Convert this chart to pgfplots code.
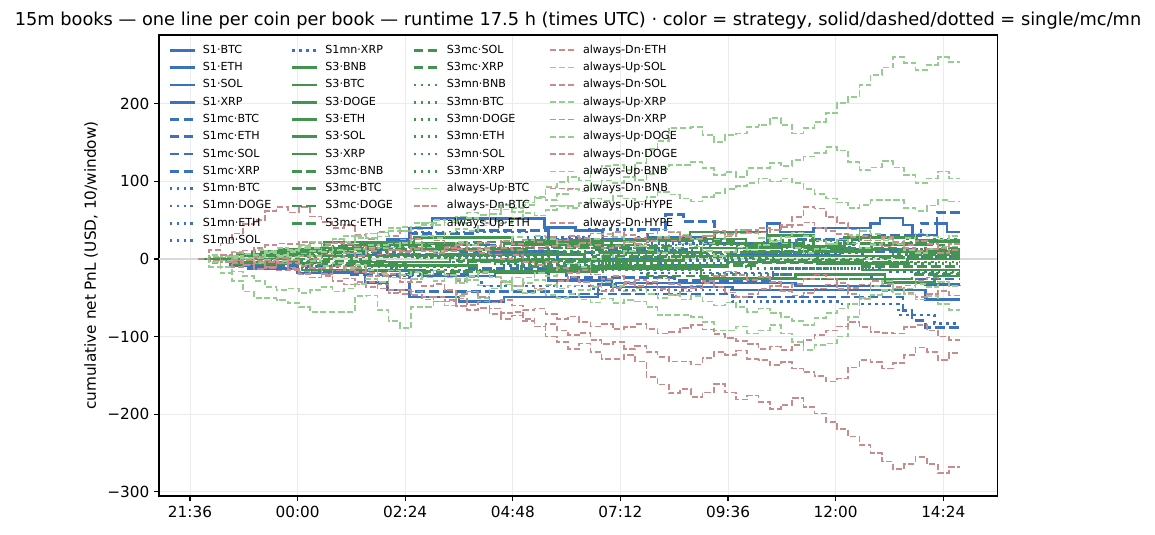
\documentclass[border=0pt]{standalone}
\usepackage{fontspec}
\setmainfont{DejaVu Sans}
\usepackage{pgfplots}
\usepackage{pgfplotstable}
\pgfplotsset{compat=1.18}
\definecolor{sone}{RGB}{58,114,190}
\definecolor{sthree}{RGB}{66,148,80}
\definecolor{aup}{RGB}{150,205,145}
\definecolor{adn}{RGB}{200,140,140}
\tikzset{
 Sa/.style={draw=sone, line width=1.9pt},
 Samc/.style={Sa, dash pattern=on 7pt off 3pt},
 Samn/.style={Sa, dash pattern=on 1.9pt off 3.1pt},
 Sb/.style={draw=sthree, line width=1.9pt},
 Sbmc/.style={Sb, dash pattern=on 7pt off 3pt},
 Sbmn/.style={Sb, dash pattern=on 1.9pt off 3.1pt},
 Aup/.style={draw=aup, line width=1.2pt, dash pattern=on 4.4pt off 1.9pt},
 Adn/.style={draw=adn, line width=1.2pt, dash pattern=on 4.4pt off 1.9pt},
}
\pgfplotstableread{
x U1 D1 U2 D2 U3 D3 U4 D4 U5 D5 U6 D6 U7 D7
0.18 0 0 0 0 0 0 0 0 0 0 0 0 0 0
0.43 3 -3 -3 3 2 -2 -10 12 3 -3 5 -5 -4 2
0.68 -4 4 4 -4 -2 2 -18 20 -2 2 2 -2 -10 5
0.93 2 -2 1 -1 4 -5 -28 33 4 -4 9 -10 -16 8
1.18 6 -7 7 -8 1 -2 -42 45 0 -1 6 -7 -22 11
1.43 1 -2 3 -4 5 -6 -50 50 -5 3 12 -13 -28 14
1.68 9 -10 10 -12 2 -4 -50 62 -1 -2 8 -10 -36 18
1.93 5 -6 14 -15 -3 1 -53 67 4 -6 3 -5 -40 20
2.18 12 -14 11 -13 3 -5 -57 60 -2 -1 9 -11 -38 19
2.43 18 -20 17 -19 7 -9 -62 67 -7 4 14 -16 -44 22
2.68 14 -16 22 -24 4 -6 -68 55 -3 0 10 -12 -40 20
2.93 20 -22 19 -21 9 -12 -68 48 -9 6 16 -19 -36 18
3.18 26 -29 25 -28 6 -9 -68 40 -5 2 12 -15 -42 21
3.43 22 -25 30 -33 11 -14 -68 44 -12 8 7 -10 -38 19
3.68 30 -33 27 -30 8 -12 -48 31 -8 4 13 -17 -32 16
3.93 27 -30 33 -36 14 -18 -47 26 -14 10 18 -22 -26 13
4.18 34 -38 29 -33 18 -22 -66 35 -19 6 14 -18 -30 15
4.43 40 -44 36 -40 15 -19 -80 30 -15 12 20 -24 -24 12
4.68 36 -40 41 -45 21 -25 -89 36 -21 9 25 -30 -20 10
4.93 42 -46 38 -42 25 -30 -62 26 -17 15 21 -26 -26 13
5.18 47 -52 44 -49 30 -35 -62 20 -24 11 15 -20 -20 10
5.43 44 -49 50 -55 27 -32 -55 24 -28 8 10 -15 -15 7
5.68 50 -55 47 -53 34 -40 -60 16 -24 14 16 -21 -21 10
5.93 46 -51 55 -61 39 -45 -48 20 -31 18 22 -28 -26 13
6.18 53 -59 60 -66 36 -42 -42 10 -27 15 18 -24 -22 11
6.43 49 -55 57 -63 43 -49 -50 14 -34 21 12 -18 -17 8
6.68 58 -64 64 -71 49 -56 -38 6 -38 17 17 -24 -23 11
6.93 64 -70 70 -77 46 -53 -30 0 -33 23 23 -30 -28 14
7.18 61 -68 66 -73 53 -60 -35 5 -40 19 28 -35 -24 12
7.43 70 -77 73 -80 59 -66 -24 -4 -44 25 24 -31 -31 16
7.68 80 -87 79 -87 56 -64 -18 -8 -40 22 30 -38 -27 13
7.93 93 -100 76 -84 63 -71 -22 -4 -46 28 26 -34 -33 17
8.18 99 -107 84 -92 69 -77 -12 -12 -50 24 20 -28 -38 20
8.43 106 -116 90 -98 66 -74 -6 -18 -45 30 15 -23 -34 17
8.68 101 -109 87 -95 72 -81 -10 -14 -52 27 21 -30 -40 21
8.93 112 -120 95 -104 78 -87 0 -20 -56 33 26 -35 -36 18
9.18 120 -129 101 -110 75 -84 6 -26 -51 29 32 -41 -30 14
9.43 121 -129 98 -107 81 -90 2 -22 -57 35 28 -37 -35 17
9.68 115 -124 106 -116 78 -88 10 -30 -53 31 22 -32 -42 22
9.93 124 -132 102 -112 74 -84 16 -35 -55 27 17 -27 -38 19
10.18 142 -152 110 -120 80 -90 12 -30 -62 33 23 -33 -45 23
10.43 152 -162 116 -126 86 -96 8 -25 -72 38 29 -39 -50 27
10.68 169 -173 121 -132 83 -94 14 -32 -72 34 35 -46 -46 24
10.93 169 -168 121 -132 78 -89 20 -38 -72 30 31 -42 -52 28
11.18 170 -178 125 -136 74 -85 16 -34 -75 25 26 -37 -48 25
11.43 160 -172 117 -128 80 -91 10 -28 -81 30 20 -31 -55 30
11.68 151 -161 108 -120 85 -97 4 -22 -92 36 25 -36 -60 33
11.93 160 -172 112 -124 90 -102 9 -16 -92 32 31 -43 -56 29
12.18 162 -181 106 -118 94 -106 15 -21 -87 38 37 -49 -62 33
12.43 170 -176 117 -129 98 -110 11 -27 -96 34 33 -45 -68 37
12.68 173 -184 117 -130 104 -116 18 -23 -92 40 27 -39 -64 34
12.93 182 -193 124 -137 100 -113 24 -30 -85 37 22 -35 -70 38
13.18 173 -188 120 -133 104 -117 20 -36 -96 44 28 -41 -75 41
13.43 162 -179 128 -141 98 -111 14 -32 -107 54 34 -47 -80 44
13.68 169 -191 132 -146 90 -104 8 -26 -117 67 30 -44 -85 47
13.93 177 -199 137 -151 84 -98 13 -20 -111 65 24 -38 -76 40
14.18 188 -210 144 -158 78 -92 19 -25 -109 54 19 -33 -70 36
14.43 201 -219 140 -154 73 -87 25 -31 -100 46 25 -39 -64 32
14.68 209 -229 125 -140 66 -81 20 -37 -75 38 31 -45 -58 28
14.93 224 -240 115 -130 70 -88 14 -33 -50 30 36 -51 -52 24
15.18 237 -250 118 -133 76 -94 18 -28 -35 24 32 -47 -46 20
15.43 247 -261 126 -141 76 -95 24 -32 -28 28 26 -41 -40 16
15.68 260 -271 118 -134 76 -96 19 -38 -38 22 21 -36 -45 20
15.93 253 -264 108 -124 66 -88 12 -34 -45 18 27 -43 -38 14
16.18 244 -255 98 -114 62 -85 8 -28 -52 23 33 -49 -32 10
16.43 250 -264 104 -120 69 -92 13 -24 -48 19 29 -45 -36 13
16.68 260 -276 113 -130 76 -100 16 -29 -58 14 25 -41 -30 8
16.93 254 -268 104 -121 74 -104 16 -34 -66 19 30 -47 -35 12
17.18 254 -268 104 -121 74 -104 16 -34 -66 19 30 -47 -35 12
}\always
\begin{document}
\begin{tikzpicture}
\useasboundingbox (-114.5pt,-27.4pt) rectangle (717.1pt,357.1pt);
\begin{axis}[
 at={(0,0)}, anchor=south west,
 scale only axis, width=603.4pt, height=331.9pt,
 xmin=-0.69, xmax=18.0, ymin=-305.5, ymax=288.8,
 xtick={0,2.4,4.8,7.2,9.6,12,14.4,16.8},
 xticklabels={21:36,00:00,02:24,04:48,07:12,09:36,12:00,14:24},
 ytick={-300,-200,-100,0,100,200},
 yticklabels={−300,−200,−100,0,100,200},
 tick align=outside, tick pos=left, major tick length=3.5pt,
 tick style={black, line width=0.8pt},
 axis line style={line width=0.8pt},
 grid=major, grid style={line width=0.55pt, color=black!8},
 tick label style={font=\fontsize{11}{13}\selectfont},
 ylabel={cumulative net PnL (USD, 10/window)},
 ylabel style={at={(axis description cs:-0.0811,0.5)}, anchor=center, font=\fontsize{11}{13}\selectfont},
 title={15m books — one line per coin per book — runtime 17.5 h (times UTC) · color = strategy, solid/dashed/dotted = single/mc/mn},
 title style={at={(axis description cs:0.5,1)}, anchor=base, yshift=0.5pt, inner sep=0pt, font=\fontsize{12.8}{15}\selectfont},
 legend columns=4,
 legend style={draw=none, fill=none, at={(axis description cs:0,1)}, anchor=north west, xshift=6.5pt, yshift=-4.6pt, inner sep=0pt, font=\fontsize{8}{9.6}\selectfont, cells={anchor=west}, nodes={inner sep=0pt, text height=5.9pt, text depth=1.6pt, minimum height=12.45pt}, /tikz/every odd column/.style={column sep=5pt}, /tikz/every even column/.style={column sep=14pt}},
 legend image code/.code={\draw[#1] (0pt,0pt) -- (18pt,0pt);},
]
\addplot[forget plot, color=black!15, line width=0.8pt] coordinates {(-0.69,0) (18,0)};
% S1 single
\addplot[const plot, Sa, forget plot] coordinates {(0.18,0) (0.9,-8) (1.9,4) (3.2,12) (4.4,25) (4.9,40) (5.4,52) (7.9,41) (8.6,37) (9.2,25) (10.2,28) (11.5,20) (12.87,46) (13.16,35) (13.9,40) (15.17,46) (15.39,53) (15.9,44) (16.12,31) (16.66,46) (16.88,35) (17.17,35)};
\addplot[const plot, Sa, forget plot] coordinates {(0.18,0) (1.3,-12) (2.4,-18) (3.9,-30) (4.4,-40) (4.9,-49) (6.0,-55) (7.0,-49) (9.1,-33) (9.5,-31) (13.5,-35) (15.6,-31) (16.4,-33) (17.17,-33)};
\addplot[const plot, Sa, forget plot] coordinates {(0.18,0) (1.6,-5) (3.0,-15) (5.2,-22) (6.8,-18) (8.0,-28) (9.4,-36) (12.1,-40) (16.4,-52) (17.17,-52)};
\addplot[const plot, Sa, forget plot] coordinates {(0.18,0) (2.1,10) (3.5,5) (5.5,18) (6.8,10) (8.2,0) (10.5,-8) (12.0,5) (14.5,12) (16.2,8) (17.17,8)};
% S1 mc
\addplot[const plot, Samc, forget plot] coordinates {(0.18,0) (1.2,6) (2.6,14) (4.9,33) (6.3,37) (8.0,25) (10.0,38) (10.6,57) (11.0,48) (11.7,20) (13.5,25) (15.0,30) (16.3,46) (16.66,60) (17.17,60)};
\addplot[const plot, Samc, forget plot] coordinates {(0.18,0) (1.0,-6) (2.6,-15) (4.9,-42) (8.5,-45) (12.1,-49) (15.9,-66) (16.1,-79) (16.4,-88) (17.17,-88)};
\addplot[const plot, Samc, forget plot] coordinates {(0.18,0) (1.8,-8) (3.6,-20) (6.2,-12) (8.4,-24) (10.8,-28) (13.0,-20) (15.2,-26) (17.17,-26)};
\addplot[const plot, Samc, forget plot] coordinates {(0.18,0) (2.0,8) (4.2,15) (6.0,8) (9.0,12) (11.2,4) (14.0,10) (17.17,10)};
% S1 mn
\addplot[const plot, Samn, forget plot] coordinates {(0.18,0) (1.5,5) (3.5,18) (4.9,35) (7.5,28) (8.9,38) (10.2,20) (12.5,15) (14.8,28) (16.0,22) (17.17,22)};
\addplot[const plot, Samn, forget plot] coordinates {(0.18,0) (2.0,-10) (4.0,-22) (6.5,-35) (9.0,-40) (12.1,-55) (14.5,-58) (15.8,-72) (16.6,-83) (17.17,-83)};
\addplot[const plot, Samn, forget plot] coordinates {(0.18,0) (1.7,-6) (4.5,-14) (7.0,-8) (10.0,-18) (13.0,-12) (15.5,-16) (17.17,-16)};
\addplot[const plot, Samn, forget plot] coordinates {(0.18,0) (2.8,10) (5.0,4) (7.8,14) (11.0,6) (14.2,-4) (16.0,2) (17.17,2)};
\addplot[const plot, Samn, forget plot] coordinates {(0.18,0) (3.0,-4) (6.0,5) (9.5,-2) (12.5,8) (15.0,3) (17.17,3)};
% S3 single
\addplot[const plot, Sb, forget plot] coordinates {(0.18,0) (1.4,6) (2.6,14) (3.8,20) (6.0,12) (7.5,24) (11.15,35) (12.87,30) (13.9,10) (15.2,18) (16.5,22) (17.17,22)};
\addplot[const plot, Sb, forget plot] coordinates {(0.18,0) (1.0,-6) (2.2,4) (4.0,-8) (6.2,-2) (8.0,-12) (11.4,-25) (13.5,-20) (15.5,-30) (16.6,-22) (17.17,-22)};
\addplot[const plot, Sb, forget plot] coordinates {(0.18,0) (1.8,10) (3.4,18) (5.2,12) (7.0,20) (9.2,8) (11.4,14) (13.2,4) (15.8,10) (17.17,10)};
\addplot[const plot, Sb, forget plot] coordinates {(0.18,0) (0.8,-4) (2.5,-14) (4.6,-8) (6.4,-16) (9.0,-10) (12.0,-4) (15.0,-14) (17.17,-14)};
\addplot[const plot, Sb, forget plot] coordinates {(0.18,0) (2.0,12) (3.0,22) (5.0,28) (7.2,18) (9.9,26) (12.4,16) (14.6,28) (16.2,24) (17.17,24)};
\addplot[const plot, Sb, forget plot] coordinates {(0.18,0) (1.2,4) (3.6,-4) (5.8,6) (8.8,-2) (11.0,4) (14.0,-6) (16.0,0) (17.17,0)};
% S3 mc
\addplot[const plot, Sbmc, forget plot] coordinates {(0.18,0) (1.6,8) (3.2,16) (6.0,22) (8.4,14) (11.6,20) (13.8,12) (15.4,18) (16.8,14) (17.17,14)};
\addplot[const plot, Sbmc, forget plot] coordinates {(0.18,0) (2.4,-6) (4.8,-16) (7.4,-10) (10.2,-22) (11.8,-26) (16.1,-20) (17.17,-20)};
\addplot[const plot, Sbmc, forget plot] coordinates {(0.18,0) (1.0,5) (3.0,12) (5.6,6) (8.0,16) (10.8,8) (13.6,14) (16.0,6) (17.17,6)};
\addplot[const plot, Sbmc, forget plot] coordinates {(0.18,0) (2.2,-3) (4.4,6) (7.0,0) (9.6,-8) (12.6,-2) (15.0,-10) (17.17,-10)};
\addplot[const plot, Sbmc, forget plot] coordinates {(0.18,0) (1.4,10) (3.8,20) (6.6,14) (9.4,24) (12.2,10) (14.4,20) (16.4,12) (17.17,12)};
\addplot[const plot, Sbmc, forget plot] coordinates {(0.18,0) (3.2,4) (6.0,-3) (9.0,3) (12.0,-5) (15.4,2) (17.17,2)};
% S3 mn
\addplot[const plot, Sbmn, forget plot] coordinates {(0.18,0) (1.8,6) (4.0,14) (7.2,8) (10.0,18) (12.8,24) (15.0,20) (16.6,26) (17.17,26)};
\addplot[const plot, Sbmn, forget plot] coordinates {(0.18,0) (2.6,-8) (5.2,-4) (8.6,-14) (11.6,-20) (14.0,-26) (16.2,-18) (17.17,-18)};
\addplot[const plot, Sbmn, forget plot] coordinates {(0.18,0) (1.2,-4) (3.8,4) (6.8,-6) (9.8,2) (13.0,-4) (15.6,6) (17.17,6)};
\addplot[const plot, Sbmn, forget plot] coordinates {(0.18,0) (2.0,8) (5.0,2) (8.0,10) (11.0,4) (14.2,12) (16.4,8) (17.17,8)};
\addplot[const plot, Sbmn, forget plot] coordinates {(0.18,0) (3.0,-10) (6.0,-16) (9.2,-6) (12.4,-12) (15.2,-4) (17.17,-4)};
\addplot[const plot, Sbmn, forget plot] coordinates {(0.18,0) (2.6,3) (5.8,-2) (9.0,5) (12.2,0) (15.6,-6) (17.17,-6)};
% always
\addplot[const plot, Aup, forget plot] table[x=x, y=U6] {\always};
\addplot[const plot, Adn, forget plot] table[x=x, y=D6] {\always};
\addplot[const plot, Aup, forget plot] table[x=x, y=U4] {\always};
\addplot[const plot, Adn, forget plot] table[x=x, y=D4] {\always};
\addplot[const plot, Aup, forget plot] table[x=x, y=U1] {\always};
\addplot[const plot, Adn, forget plot] table[x=x, y=D1] {\always};
\addplot[const plot, Aup, forget plot] table[x=x, y=U2] {\always};
\addplot[const plot, Adn, forget plot] table[x=x, y=D2] {\always};
\addplot[const plot, Aup, forget plot] table[x=x, y=U5] {\always};
\addplot[const plot, Adn, forget plot] table[x=x, y=D5] {\always};
\addplot[const plot, Aup, forget plot] table[x=x, y=U3] {\always};
\addplot[const plot, Adn, forget plot] table[x=x, y=D3] {\always};
\addplot[const plot, Aup, forget plot] table[x=x, y=U7] {\always};
\addplot[const plot, Adn, forget plot] table[x=x, y=D7] {\always};
% legend (row-major for 4 columns)
\addlegendimage{Sa}\addlegendentry{S1·BTC}
\addlegendimage{Samn}\addlegendentry{S1mn·XRP}
\addlegendimage{Sbmc}\addlegendentry{S3mc·SOL}
\addlegendimage{Adn}\addlegendentry{always-Dn·ETH}
\addlegendimage{Sa}\addlegendentry{S1·ETH}
\addlegendimage{Sb}\addlegendentry{S3·BNB}
\addlegendimage{Sbmc}\addlegendentry{S3mc·XRP}
\addlegendimage{Aup}\addlegendentry{always-Up·SOL}
\addlegendimage{Sa}\addlegendentry{S1·SOL}
\addlegendimage{Sb}\addlegendentry{S3·BTC}
\addlegendimage{Sbmn}\addlegendentry{S3mn·BNB}
\addlegendimage{Adn}\addlegendentry{always-Dn·SOL}
\addlegendimage{Sa}\addlegendentry{S1·XRP}
\addlegendimage{Sb}\addlegendentry{S3·DOGE}
\addlegendimage{Sbmn}\addlegendentry{S3mn·BTC}
\addlegendimage{Aup}\addlegendentry{always-Up·XRP}
\addlegendimage{Samc}\addlegendentry{S1mc·BTC}
\addlegendimage{Sb}\addlegendentry{S3·ETH}
\addlegendimage{Sbmn}\addlegendentry{S3mn·DOGE}
\addlegendimage{Adn}\addlegendentry{always-Dn·XRP}
\addlegendimage{Samc}\addlegendentry{S1mc·ETH}
\addlegendimage{Sb}\addlegendentry{S3·SOL}
\addlegendimage{Sbmn}\addlegendentry{S3mn·ETH}
\addlegendimage{Aup}\addlegendentry{always-Up·DOGE}
\addlegendimage{Samc}\addlegendentry{S1mc·SOL}
\addlegendimage{Sb}\addlegendentry{S3·XRP}
\addlegendimage{Sbmn}\addlegendentry{S3mn·SOL}
\addlegendimage{Adn}\addlegendentry{always-Dn·DOGE}
\addlegendimage{Samc}\addlegendentry{S1mc·XRP}
\addlegendimage{Sbmc}\addlegendentry{S3mc·BNB}
\addlegendimage{Sbmn}\addlegendentry{S3mn·XRP}
\addlegendimage{Aup}\addlegendentry{always-Up·BNB}
\addlegendimage{Samn}\addlegendentry{S1mn·BTC}
\addlegendimage{Sbmc}\addlegendentry{S3mc·BTC}
\addlegendimage{Aup}\addlegendentry{always-Up·BTC}
\addlegendimage{Adn}\addlegendentry{always-Dn·BNB}
\addlegendimage{Samn}\addlegendentry{S1mn·DOGE}
\addlegendimage{Sbmc}\addlegendentry{S3mc·DOGE}
\addlegendimage{Adn}\addlegendentry{always-Dn·BTC}
\addlegendimage{Aup}\addlegendentry{always-Up·HYPE}
\addlegendimage{Samn}\addlegendentry{S1mn·ETH}
\addlegendimage{Sbmc}\addlegendentry{S3mc·ETH}
\addlegendimage{Aup}\addlegendentry{always-Up·ETH}
\addlegendimage{Adn}\addlegendentry{always-Dn·HYPE}
\addlegendimage{Samn}\addlegendentry{S1mn·SOL}
\end{axis}
\end{tikzpicture}
\end{document}
